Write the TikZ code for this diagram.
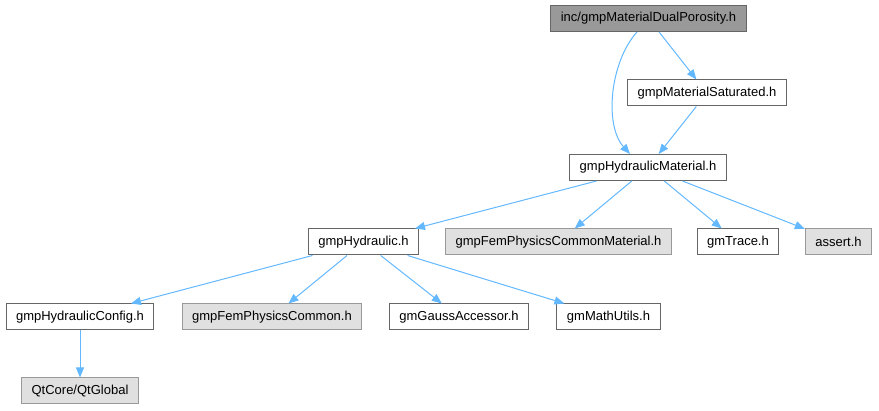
\documentclass[tikz,border=0pt]{standalone}
\usepackage{fontspec}
\setmainfont{Liberation Sans}
\usetikzlibrary{arrows.meta}
\definecolor{edgeblue}{HTML}{63B8FF}
\definecolor{boxline}{HTML}{666666}
\definecolor{extline}{HTML}{999999}
\definecolor{extfill}{HTML}{E0E0E0}
\definecolor{curfill}{HTML}{999999}
\begin{document}
\begin{tikzpicture}[x=1pt, y=-1pt,
    file/.style={draw=boxline, fill=white, line width=1pt, inner xsep=10pt,
        minimum height=26pt, font=\fontsize{13pt}{15pt}\selectfont},
    extfile/.style={file, draw=extline, fill=extfill},
    curfile/.style={file, fill=curfill},
    inc/.style={draw=edgeblue, line width=1pt, -{Triangle[length=10pt,width=8pt]}}]
    \useasboundingbox (0,0) rectangle (879,411);
    \node[curfile] (dual) at (648.5,18.5) {inc/gmpMaterialDualPorosity.h};
    \node[file] (sat) at (707,93) {gmpMaterialSaturated.h};
    \node[file] (hydmat) at (648,167.5) {gmpHydraulicMaterial.h};
    \node[file] (hyd) at (363.5,242) {gmpHydraulic.h};
    \node[extfile] (femmat) at (558.5,242) {gmpFemPhysicsCommonMaterial.h};
    \node[file] (trace) at (738,242) {gmTrace.h};
    \node[extfile] (assert) at (838.5,242) {assert.h};
    \node[file] (config) at (80,317) {gmpHydraulicConfig.h};
    \node[extfile] (femcom) at (272,317) {gmpFemPhysicsCommon.h};
    \node[file] (gauss) at (459,317) {gmGaussAccessor.h};
    \node[file] (math) at (608.5,317) {gmMathUtils.h};
    \node[extfile] (qt) at (80,391) {QtCore/QtGlobal};
    \draw[inc] ([xshift=-11.5pt]dual.south) .. controls (610,62) and (604,125) .. ([xshift=-18pt]hydmat.north);
    \draw[inc] (dual) -- (sat);
    \draw[inc] (sat) -- (hydmat);
    \draw[inc] (hydmat) -- (hyd);
    \draw[inc] (hydmat) -- (femmat);
    \draw[inc] (hydmat) -- (trace);
    \draw[inc] (hydmat) -- (assert);
    \draw[inc] (hyd) -- (config);
    \draw[inc] (hyd) -- (femcom);
    \draw[inc] (hyd) -- (gauss);
    \draw[inc] (hyd) -- (math);
    \draw[inc] (config) -- (qt);
\end{tikzpicture}
\end{document}
